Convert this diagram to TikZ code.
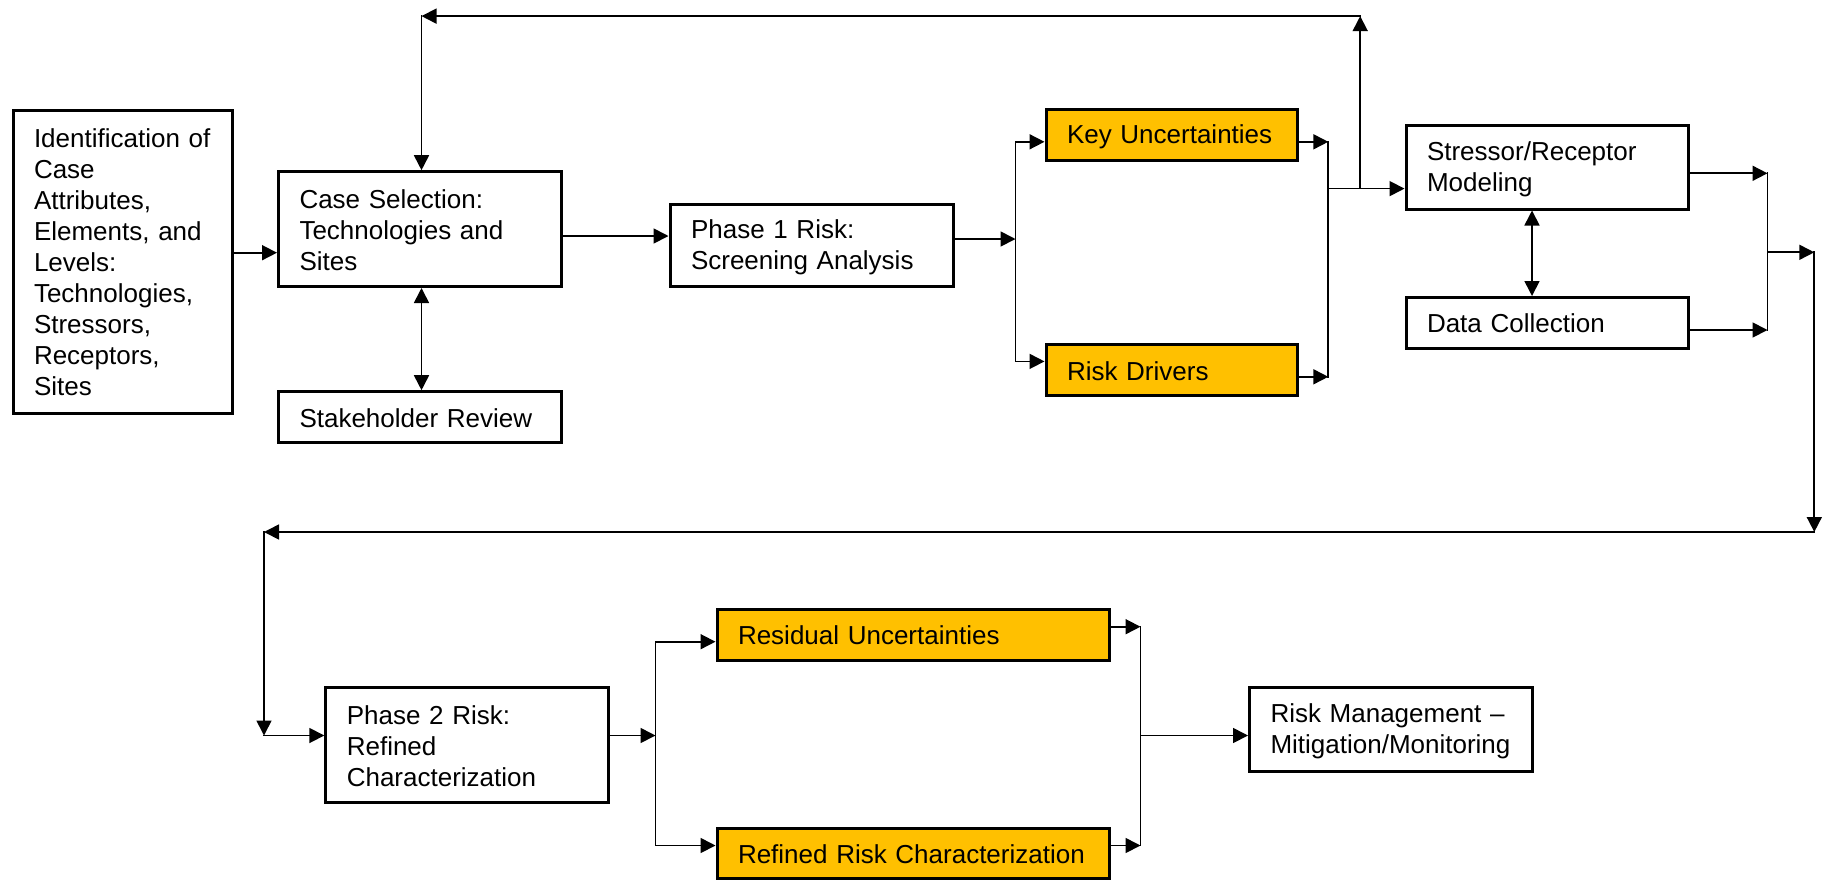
\documentclass[tikz,border=0pt]{standalone}
\usepackage{fontspec}
\setmainfont{Liberation Sans}
\usetikzlibrary{arrows.meta}
\definecolor{gold}{HTML}{FFC000}

\begin{document}
\begin{tikzpicture}[x=1pt,y=-1pt,
  box/.style={draw=black, line width=3pt, fill=white, rectangle, inner xsep=21pt, inner ysep=0pt,
    align=left, font=\fontsize{26pt}{31pt}\selectfont,
    execute at begin node={\rule{0pt}{22pt}}, execute at end node={\rule[-2pt]{0pt}{2pt}}},
  hot/.style={box, fill=gold},
  conn/.style={line width=1.7pt, draw=black, line cap=rect},
  arr/.style={conn, -{Triangle[length=15pt,width=15pt]}},
  darr/.style={conn, {Triangle[length=15pt,width=15pt]}-{Triangle[length=15pt,width=15pt]}},
]
\useasboundingbox (0,0) rectangle (1825,879);

% boxes
\node[box, minimum width=219.5pt, minimum height=303.5pt, text width=177.5pt] (ident) at (122.75,261.75)
  {Identification~of\\Case\\Attributes,\\Elements,~and\\Levels:\\Technologies,\\Stressors,\\Receptors,\\Sites};
\node[box, minimum width=282.5pt, minimum height=114.8pt, text width=240.5pt] (case) at (419.75,229.1)
  {Case~Selection:\\Technologies~and\\Sites};
\node[box, minimum width=282.5pt, minimum height=50.6pt, text width=240.5pt] (stake) at (419.75,417)
  {Stakeholder~Review};
\node[box, minimum width=283.3pt, minimum height=82.8pt, text width=241.3pt] (phase1) at (811.65,245.4)
  {Phase~1~Risk:\\Screening~Analysis};
\node[hot, minimum width=251pt, minimum height=51.7pt, text width=209pt] (keyunc) at (1171.5,134.85)
  {Key~Uncertainties};
\node[hot, minimum width=251pt, minimum height=51.1pt, text width=209pt] (drivers) at (1171.5,370.15)
  {Risk~Drivers};
\node[box, minimum width=282.3pt, minimum height=83.3pt, text width=240.3pt] (stressor) at (1547.15,167.35)
  {Stressor/Receptor\\Modeling};
\node[box, minimum width=282.3pt, minimum height=50.7pt, text width=240.3pt] (data) at (1547.15,322.85)
  {Data~Collection};
\node[box, minimum width=282.5pt, minimum height=115pt, text width=240.5pt] (phase2) at (467.05,745.2)
  {Phase~2~Risk:\\Refined\\Characterization};
\node[hot, minimum width=392.5pt, minimum height=51pt, text width=350.5pt] (residual) at (913.25,634.8)
  {Residual~Uncertainties};
\node[hot, minimum width=392.5pt, minimum height=49.5pt, text width=350.5pt] (refined) at (913.25,853.25)
  {Refined~Risk~Characterization};
\node[box, minimum width=282.5pt, minimum height=84.4pt, text width=240.5pt] (riskmgmt) at (1390.75,729.5)
  {Risk~Management~–\\Mitigation/Monitoring};

% junction coordinates
\coordinate (yi) at (250,252.7);
\coordinate (yc) at (600,236);
\coordinate (s1) at (1015.5,239);
\coordinate (jA) at (1015.5,141.8);
\coordinate (jB) at (1015.5,361.4);
\coordinate (r1t) at (1328.3,141.8);
\coordinate (r1b) at (1328.3,376.8);
\coordinate (r1m) at (1328.3,188.6);
\coordinate (up1) at (1360.2,188.6);
\coordinate (top1) at (1360.2,16.1);
\coordinate (top2) at (421.5,16.1);
\coordinate (sd) at (1532,250);
\coordinate (r2t) at (1767.5,173.3);
\coordinate (r2b) at (1767.5,330);
\coordinate (r2m) at (1767.5,252.3);
\coordinate (d1) at (1814.3,252.3);
\coordinate (d2) at (1814.3,532);
\coordinate (d3) at (264,532);
\coordinate (d4) at (264,735.5);
\coordinate (s2) at (655.5,735.5);
\coordinate (s2t) at (655.5,641.7);
\coordinate (s2b) at (655.5,845.5);
\coordinate (r3t) at (1140.5,626.7);
\coordinate (r3b) at (1140.5,845.5);
\coordinate (r3m) at (1140.5,735.5);

% upper row connectors
\draw[arr] (ident.east |- yi) -- (case.west |- yi);
\draw[arr] (case.east |- yc) -- (phase1.west |- yc);
\draw[darr] (case.south -| top2) -- (stake.north -| top2);
\draw[arr] (phase1.east |- s1) -- (s1);
\draw[conn] (jA) -- (jB);
\draw[arr] (jA) -- (keyunc.west |- jA);
\draw[arr] (jB) -- (drivers.west |- jB);
\draw[arr] (keyunc.east |- r1t) -- (r1t);
\draw[arr] (drivers.east |- r1b) -- (r1b);
\draw[conn] (r1t) -- (r1b);
\draw[arr] (r1m) -- (stressor.west |- r1m);
\draw[arr] (up1) -- (top1);
\draw[arr] (top1) -- (top2);
\draw[arr] (top2) -- (case.north -| top2);
\draw[darr] (stressor.south -| sd) -- (data.north -| sd);
\draw[arr] (stressor.east |- r2t) -- (r2t);
\draw[arr] (data.east |- r2b) -- (r2b);
\draw[conn] (r2t) -- (r2b);
\draw[arr] (r2m) -- (d1);
\draw[arr] (d1) -- (d2);
\draw[arr] (d2) -- (d3);
\draw[arr] (d3) -- (d4);
\draw[arr] (d4) -- (phase2.west |- d4);

% lower row connectors
\draw[arr] (phase2.east |- s2) -- (s2);
\draw[conn] (s2t) -- (s2b);
\draw[arr] (s2t) -- (residual.west |- s2t);
\draw[arr] (s2b) -- (refined.west |- s2b);
\draw[arr] (residual.east |- r3t) -- (r3t);
\draw[arr] (refined.east |- r3b) -- (r3b);
\draw[conn] (r3t) -- (r3b);
\draw[arr] (r3m) -- (riskmgmt.west |- r3m);
\end{tikzpicture}
\end{document}
